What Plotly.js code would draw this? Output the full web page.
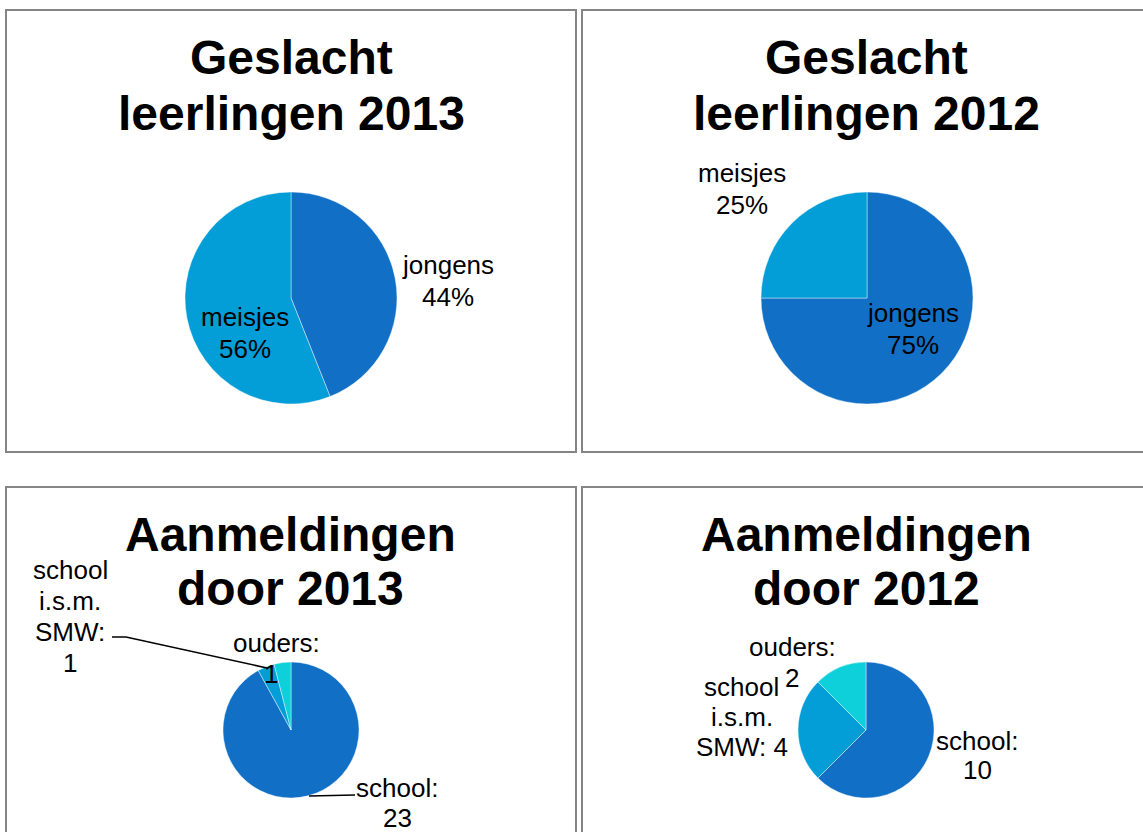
<!DOCTYPE html>
<html>
<head>
<meta charset="utf-8">
<script src="https://cdn.plot.ly/plotly-3.0.1.min.js"></script>
<style>
  body { margin: 0; background: #fff; }
  #chart { width: 1143px; height: 832px; }
</style>
</head>
<body>
<div id="chart"></div>
<script>
// data
var genderLabels = ["jongens", "meisjes"];
var gender2013 = [44, 56];
var gender2012 = [75, 25];

var referralLabels = ["school", "school i.s.m. SMW", "ouders"];
var referral2013 = [23, 1, 1];
var referral2012 = [10, 4, 2];

var titleGender2013 = ["Geslacht", "leerlingen 2013"];
var titleGender2012 = ["Geslacht", "leerlingen 2012"];
var titleReferral2013 = ["Aanmeldingen", "door 2013"];
var titleReferral2012 = ["Aanmeldingen", "door 2012"];

var sliceColors = ["#1170C6", "#039DD8", "#0DD0DB"];

// pixel -> paper helpers
var W = 1143, H = 832;
function px(x) { return x / W; }
function py(y) { return 1 - y / H; }

function pct(vals, i) {
    var total = vals.reduce((a, b) => a + b, 0);
    return Math.round(vals[i] / total * 100) + "%";
}

function pieTrace(labels, values, cx, cy, r) {
    return {
        type: "pie",
        labels: labels,
        values: values,
        sort: false,
        direction: "clockwise",
        rotation: 0,
        textinfo: "none",
        hoverinfo: "label+value+percent",
        marker: { colors: sliceColors, line: { color: "rgba(255,255,255,0.6)", width: 0.7 } },
        domain: { x: [px(cx - r), px(cx + r)], y: [py(cy + r), py(cy - r)] },
        showlegend: false
    };
}

var data = [
    pieTrace(genderLabels, gender2013, 291, 298, 106),
    pieTrace(genderLabels, gender2012, 867, 298, 106),
    pieTrace(referralLabels, referral2013, 291, 730, 68),
    pieTrace(referralLabels, referral2012, 866, 730, 68)
];

var font = "Liberation Sans, Arial, sans-serif";

function note(x, y, text, size, bold) {
    return {
        xref: "paper", yref: "paper",
        x: px(x), y: py(y),
        xanchor: "center", yanchor: "middle",
        text: bold ? "<b>" + text + "</b>" : text,
        showarrow: false,
        align: "center",
        font: { family: font, size: size, color: "#000" }
    };
}

// one annotation per line so the line spacing can follow the picture
function lines(x, y, step, arr, size) {
    return arr.map((t, i) => note(Array.isArray(x) ? x[i] : x, y + i * step, t, size));
}

var annotations = [
    // titles
    note(291, 58, titleGender2013[0], 48, true),
    note(291, 113, titleGender2013[1], 48, true),
    note(867, 58, titleGender2012[0], 48, true),
    note(867, 113, titleGender2012[1], 48, true),
    note(290, 534, titleReferral2013[0], 48, true),
    note(290, 588, titleReferral2013[1], 48, true),
    note(866, 534, titleReferral2012[0], 48, true),
    note(866, 588, titleReferral2012[1], 48, true)
].concat(
    // gender labels
    lines(448, 265, 32, [genderLabels[0], pct(gender2013, 0)], 26),
    lines(245, 317, 32, [genderLabels[1], pct(gender2013, 1)], 26),
    lines(742, 173, 32, [genderLabels[1], pct(gender2012, 1)], 26),
    lines(913, 313, 32, [genderLabels[0], pct(gender2012, 0)], 26),

    // referral labels 2013
    lines(70, 570, 31, ["school", "i.s.m.", "SMW:", String(referral2013[1])], 26),
    lines([276, 271], 643, 31, [referralLabels[2] + ":", String(referral2013[2])], 26),
    lines(397, 788, 30, [referralLabels[0] + ":", String(referral2013[0])], 26),

    // referral labels 2012
    lines(792, 647, 31, [referralLabels[2] + ":", String(referral2012[2])], 26),
    lines(742, 687, 30, ["school", "i.s.m.", "SMW: " + referral2012[1]], 26),
    lines(977, 741, 29, [referralLabels[0] + ":", String(referral2012[0])], 26)
);

var boxLine = { color: "#858585", width: 2 };
var shapes = [
    { type: "rect", xref: "paper", yref: "paper", x0: px(6), x1: px(576), y0: py(452), y1: py(10), line: boxLine },
    { type: "rect", xref: "paper", yref: "paper", x0: px(582), x1: px(1150), y0: py(452), y1: py(10), line: boxLine },
    { type: "rect", xref: "paper", yref: "paper", x0: px(6), x1: px(576), y0: py(845), y1: py(487), line: boxLine },
    { type: "rect", xref: "paper", yref: "paper", x0: px(582), x1: px(1150), y0: py(845), y1: py(487), line: boxLine },
    // leader lines
    { type: "path", xref: "paper", yref: "paper",
      path: "M " + px(112) + " " + py(637) + " L " + px(126) + " " + py(637) + " L " + px(267) + " " + py(668),
      line: { color: "#000", width: 1.5 } },
    { type: "path", xref: "paper", yref: "paper",
      path: "M " + px(309) + " " + py(796) + " L " + px(355) + " " + py(795),
      line: { color: "#000", width: 1.5 } }
];

var layout = {
    width: W,
    height: H,
    margin: { l: 0, r: 0, t: 0, b: 0 },
    paper_bgcolor: "#fff",
    font: { family: font },
    annotations: annotations,
    shapes: shapes,
    showlegend: false
};

Plotly.newPlot("chart", data, layout, { staticPlot: true });
</script>
</body>
</html>
